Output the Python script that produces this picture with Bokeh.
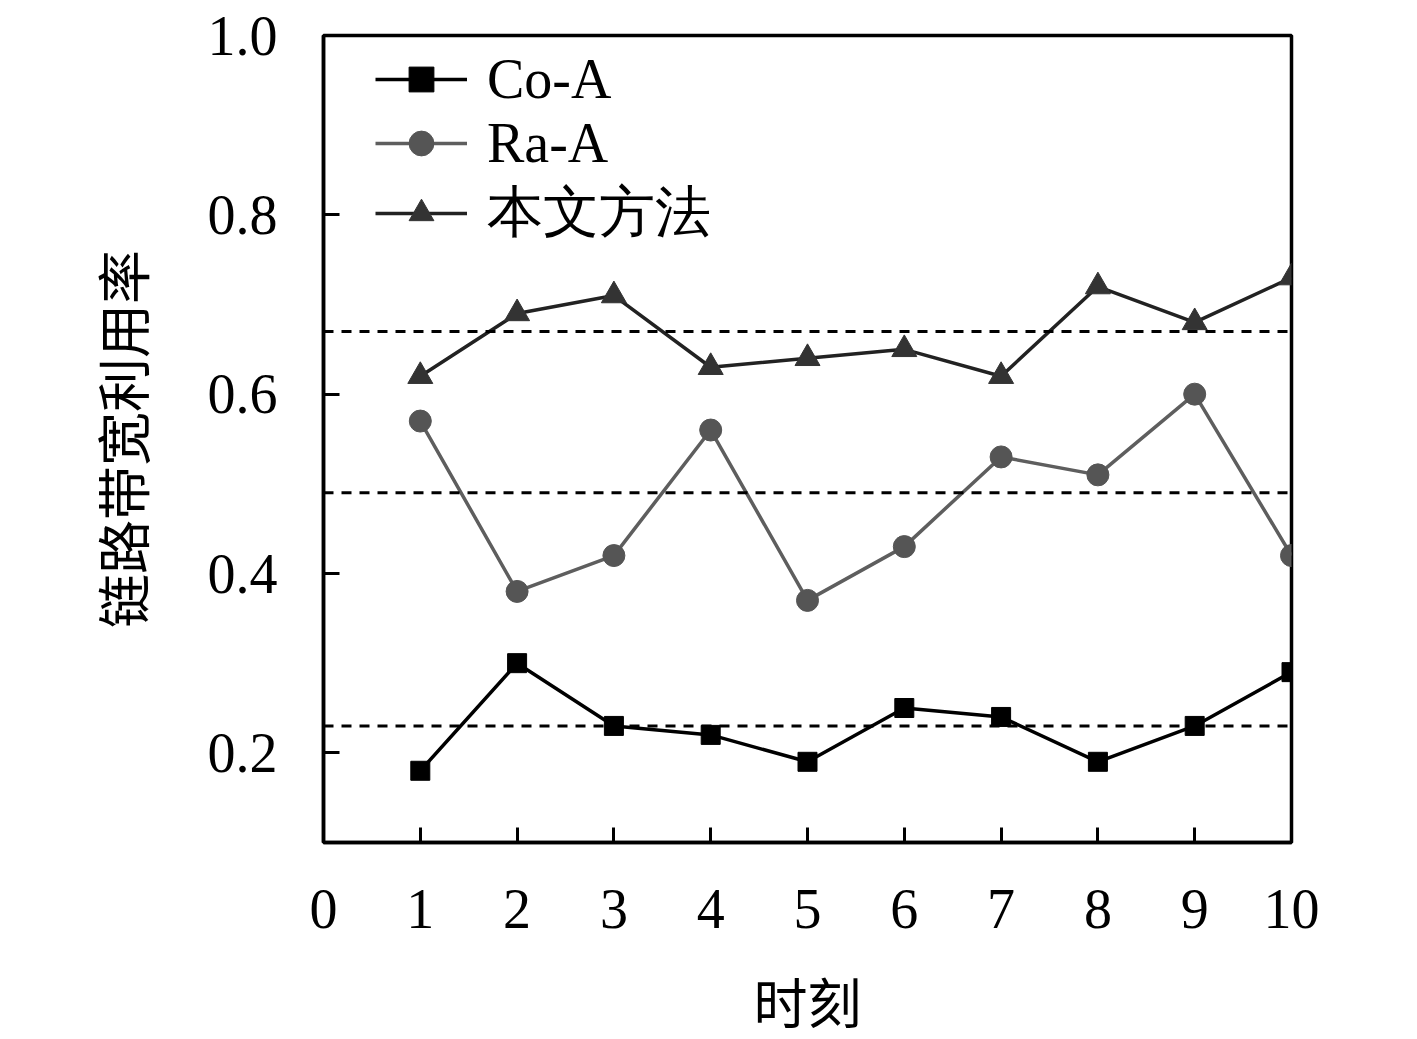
from bokeh.plotting import figure
from bokeh.models import FixedTicker, Span, Legend, LegendItem, Range1d
from bokeh.embed import file_html
from bokeh.resources import INLINE

x_vals = [1, 2, 3, 4, 5, 6, 7, 8, 9, 10]
co_a = [0.18, 0.30, 0.23, 0.22, 0.19, 0.25, 0.24, 0.19, 0.23, 0.29]
ra_a = [0.57, 0.38, 0.42, 0.56, 0.37, 0.43, 0.53, 0.51, 0.60, 0.42]
ours = [0.62, 0.69, 0.71, 0.63, 0.64, 0.65, 0.62, 0.72, 0.68, 0.73]
mean_lines = [0.23, 0.49, 0.67]
names = ["Co-A", "Ra-A", "本文方法"]
x_ticks = [0, 1, 2, 3, 4, 5, 6, 7, 8, 9, 10]
y_ticks = [0.2, 0.4, 0.6, 0.8, 1.0]

NUM_FONT = "Liberation Serif"
CJK_FONT = "Noto Sans CJK SC"

p = figure(frame_width=968, frame_height=807,
           min_border_left=323, min_border_top=35,
           min_border_right=108, min_border_bottom=178,
           x_range=Range1d(0, 10), y_range=Range1d(0.1, 1.0),
           output_backend="svg", toolbar_location=None,
           background_fill_color="white", border_fill_color="white")

p.xgrid.visible = False
p.ygrid.visible = False
p.outline_line_color = "black"
p.outline_line_width = 3.5

for ax in (p.xaxis[0], p.yaxis[0]):
    ax.axis_line_width = 3.5
    ax.axis_line_color = "black"
    ax.major_tick_out = 0
    ax.minor_tick_in = 0
    ax.minor_tick_out = 0
    ax.major_tick_line_width = 3
    ax.major_label_text_font = NUM_FONT
    ax.major_label_text_font_size = "56px"
    ax.major_label_text_color = "black"
    ax.axis_label_text_font = CJK_FONT
    ax.axis_label_text_font_style = "normal"
    ax.axis_label_text_color = "black"
    ax.axis_label_text_font_size = "54px"

p.xaxis.ticker = FixedTicker(ticks=x_ticks)
p.yaxis.ticker = FixedTicker(ticks=y_ticks)
p.yaxis.major_label_overrides = {v: f"{v:.1f}" for v in y_ticks}
p.xaxis.major_tick_in = 15
p.yaxis.major_tick_in = 16
p.xaxis.major_label_standoff = 47
p.yaxis.major_label_standoff = 46
p.xaxis.axis_label = "时刻"
p.yaxis.axis_label = "链路带宽利用率"
p.xaxis.axis_label_standoff = 30
p.yaxis.axis_label_standoff = 44

for m in mean_lines:
    p.add_layout(Span(location=m, dimension="width", line_color="black",
                      line_width=3, line_dash="10 8"))

l1 = p.line(x_vals, co_a, line_color="black", line_width=3.5)
s1 = p.scatter(x_vals, co_a, marker="square", size=19, fill_color="black", line_color="black")
l2 = p.line(x_vals, ra_a, line_color="#5e5e5e", line_width=3.5)
s2 = p.scatter(x_vals, ra_a, marker="circle", size=22, fill_color="#555555", line_color="#555555")
l3 = p.line(x_vals, ours, line_color="#222222", line_width=3.5)
s3 = p.scatter(x_vals, ours, marker="triangle", size=25, fill_color="#333333", line_color="#333333")

legend = Legend(items=[
    LegendItem(label=names[0], renderers=[l1, s1]),
    LegendItem(label=names[1], renderers=[l2, s2]),
    LegendItem(label=names[2], renderers=[l3, s3]),
], location=(52, 591))
legend.margin = 0
legend.padding = 0
legend.spacing = 0
legend.border_line_color = None
legend.background_fill_alpha = 0
legend.glyph_width = 92
legend.glyph_height = 62
legend.label_height = 62
legend.label_standoff = 20
legend.label_text_font = NUM_FONT
legend.label_text_font_size = "56px"
legend.label_text_color = "black"
p.add_layout(legend)

open("out.html", "w").write(file_html(p, INLINE))
